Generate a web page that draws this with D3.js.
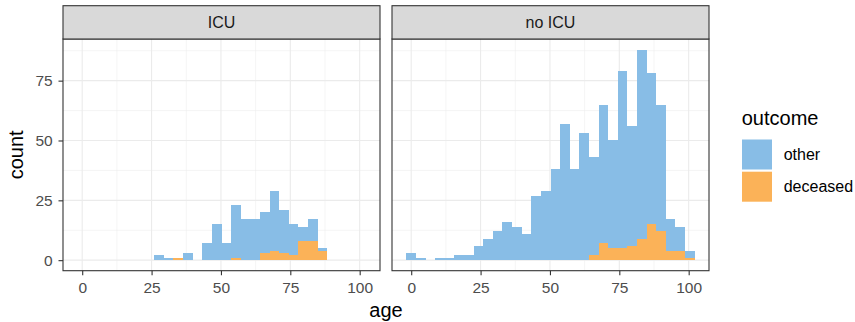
<!DOCTYPE html>
<html>
<head>
<meta charset="utf-8">
<script src="https://cdn.jsdelivr.net/npm/d3@7"></script>
<style>
  html, body { margin: 0; padding: 0; background: #ffffff; }
  svg { display: block; font-family: "Liberation Sans", Arial, Helvetica, sans-serif; }
</style>
</head>
<body>
<div id="chart"></div>
<script>
// Age histogram (30 bins centred on 0 … 100.4), faceted by ICU admission,
// bars stacked by outcome.
const panels = ["ICU", "no ICU"];
const outcomes = ["other", "deceased"];
const outcomeColors = ["#88BDE6", "#FBB258"];

const binCount = 30;
const ageMin = 0;
const ageMax = 100.4;

// counts per bin, one array per facet and outcome
const icuOther =      [0,0,0,0,0,0,0,0,2,1,0,3,0,7,15,7,22,17,17,17,25,18,13,6,9,1,0,0,0,0];
const icuDeceased =   [0,0,0,0,0,0,0,0,0,0,1,0,0,0,0,0,1,0,0,3,4,3,2,8,8,4,0,0,0,0];
const noIcuOther =    [3,1,0,1,1,2,2,6,9,12,16,14,11,27,29,38,57,38,53,41,58,45,74,50,79,63,53,13,10,3];
const noIcuDeceased = [0,0,0,0,0,0,0,0,0,0,0,0,0,0,0,0,0,0,0,2,7,5,5,6,9,15,12,4,4,1];

const xTicks = [0, 25, 50, 75, 100];
const yTicks = [0, 25, 50, 75];
const xMinor = [12.5, 37.5, 62.5, 87.5];
const yMinor = [12.5, 37.5, 62.5, 87.5];

const binWidth = (ageMax - ageMin) / (binCount - 1);
const binStarts = d3.range(binCount).map(i => ageMin + (i - 0.5) * binWidth);

const facetData = [
  { name: panels[0], other: icuOther, deceased: icuDeceased },
  { name: panels[1], other: noIcuOther, deceased: noIcuDeceased }
];

// layout
const W = 855, H = 322;
const panelW = 317, panelTop = 39, panelH = 231.7;
const stripTop = 5.7;
const panelX = [63, 392];
const border = "#333333";
const gridCol = "#EBEBEB";
const smallFont = 15.5, titleFont = 20;

const svg = d3.select("#chart").append("svg")
  .attr("width", W).attr("height", H);

// scales shared by both facets (fixed scales)
const lo = binStarts[0], hi = binStarts[binCount - 1] + binWidth;
const xPad = (hi - lo) * 0.05;
const x = d3.scaleLinear().domain([lo - xPad, hi + xPad]).range([0, panelW]);

const totals = facetData.flatMap(f => f.other.map((v, i) => v + f.deceased[i]));
const yMax = d3.max(totals);
const y = d3.scaleLinear().domain([-0.05 * yMax, 1.05 * yMax]).range([panelH, 0]);

const stack = d3.stack().keys(["deceased", "other"]);
const color = d3.scaleOrdinal().domain(outcomes).range(outcomeColors);

facetData.forEach((f, pi) => {
  const g = svg.append("g").attr("transform", `translate(${panelX[pi]},${panelTop})`);

  g.append("rect").attr("width", panelW).attr("height", panelH).attr("fill", "#fff");

  // minor grid
  g.selectAll(".xminor").data(xMinor).join("line")
    .attr("x1", d => x(d)).attr("x2", d => x(d)).attr("y1", 0).attr("y2", panelH)
    .attr("stroke", gridCol).attr("stroke-width", 0.55);
  g.selectAll(".yminor").data(yMinor.filter(v => y(v) > 0)).join("line")
    .attr("x1", 0).attr("x2", panelW).attr("y1", d => y(d)).attr("y2", d => y(d))
    .attr("stroke", gridCol).attr("stroke-width", 0.55);
  // major grid
  g.selectAll(".xmajor").data(xTicks).join("line")
    .attr("x1", d => x(d)).attr("x2", d => x(d)).attr("y1", 0).attr("y2", panelH)
    .attr("stroke", gridCol).attr("stroke-width", 1.1);
  g.selectAll(".ymajor").data(yTicks).join("line")
    .attr("x1", 0).attr("x2", panelW).attr("y1", d => y(d)).attr("y2", d => y(d))
    .attr("stroke", gridCol).attr("stroke-width", 1.1);

  // stacked histogram bars
  const rows = binStarts.map((b, i) => ({ start: b, deceased: f.deceased[i], other: f.other[i] }));
  const series = stack(rows);
  g.selectAll(".series").data(series).join("g")
    .attr("fill", s => color(s.key))
    .attr("shape-rendering", "crispEdges")
    .selectAll("rect").data(s => s.filter(d => d[1] > d[0])).join("rect")
    .attr("x", d => x(d.data.start))
    .attr("width", d => x(d.data.start + binWidth) - x(d.data.start))
    .attr("y", d => y(d[1]))
    .attr("height", d => y(d[0]) - y(d[1]));

  // panel border
  g.append("rect").attr("width", panelW).attr("height", panelH)
    .attr("fill", "none").attr("stroke", border).attr("stroke-width", 1.1);

  // strip
  const sg = svg.append("g").attr("transform", `translate(${panelX[pi]},${stripTop})`);
  sg.append("rect").attr("width", panelW).attr("height", panelTop - stripTop)
    .attr("fill", "#D9D9D9").attr("stroke", border).attr("stroke-width", 1.1);
  sg.append("text").attr("x", panelW / 2).attr("y", (panelTop - stripTop) / 2)
    .attr("dy", "0.36em").attr("text-anchor", "middle")
    .attr("font-size", 16).attr("fill", "#1A1A1A").text(f.name);

  // x axis
  const xa = svg.append("g").attr("transform", `translate(${panelX[pi]},${panelTop + panelH})`)
    .call(d3.axisBottom(x).tickValues(xTicks).tickSize(4.5).tickPadding(4).tickSizeOuter(0));
  xa.select(".domain").remove();
  xa.selectAll(".tick line").attr("stroke", border).attr("stroke-width", 1.1);
  xa.selectAll(".tick text").attr("font-size", smallFont).attr("fill", "#4D4D4D")
    .attr("font-family", "Liberation Sans, Arial, sans-serif").attr("y", 11.3).attr("dy", "0.71em");

  if (pi === 0) {
    const ya = svg.append("g").attr("transform", `translate(${panelX[pi]},${panelTop})`)
      .call(d3.axisLeft(y).tickValues(yTicks).tickSize(4.5).tickPadding(5.8).tickSizeOuter(0));
    ya.select(".domain").remove();
    ya.selectAll(".tick line").attr("stroke", border).attr("stroke-width", 1.1);
    ya.selectAll(".tick text").attr("font-size", smallFont).attr("fill", "#4D4D4D")
      .attr("font-family", "Liberation Sans, Arial, sans-serif");
  }
});

// axis titles, centred on the panel area
svg.append("text").attr("x", (panelX[0] + panelX[1] + panelW) / 2).attr("y", 316.5)
  .attr("text-anchor", "middle").attr("font-size", titleFont).attr("fill", "#000").text("age");
svg.append("text").attr("transform", `translate(22.7,${panelTop + panelH / 2}) rotate(-90)`)
  .attr("text-anchor", "middle").attr("font-size", titleFont).attr("fill", "#000").text("count");

// legend
const lg = svg.append("g").attr("transform", "translate(742,0)");
lg.append("text").attr("x", -0.3).attr("y", 125).attr("font-size", titleFont).attr("fill", "#000").text("outcome");
outcomes.forEach((o, i) => {
  const top = 139.5 + i * 32.2;
  lg.append("rect").attr("x", 0).attr("y", top).attr("width", 30).attr("height", 30)
    .attr("fill", color(o));
  lg.append("text").attr("x", 41.7).attr("y", top + 15).attr("dy", "0.36em")
    .attr("font-size", 16).attr("fill", "#000").text(o);
});
</script>
</body>
</html>
